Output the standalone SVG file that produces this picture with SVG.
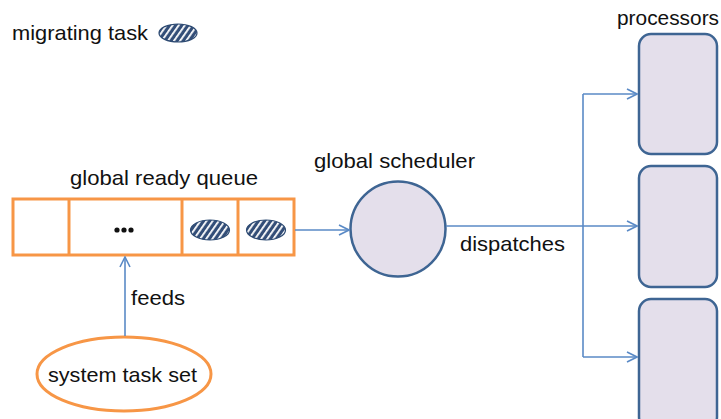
<svg xmlns="http://www.w3.org/2000/svg" width="721" height="419" viewBox="0 0 721 419">
<defs>
<style>
text{font-family:"Liberation Sans","Open Sans",sans-serif;font-size:21px;fill:#111}
.q{fill:#fff;stroke:#F79646;stroke-width:3}
.proc{fill:#E4DFEB;stroke:#3E6593;stroke-width:2.5}
.c{fill:none;stroke:#5A8AC6;stroke-width:1.6}
.task{fill:url(#hatch);stroke:#2E4B73;stroke-width:1.2}
</style>
<pattern id="hatch" patternUnits="userSpaceOnUse" width="5" height="5" patternTransform="rotate(35)">
<rect width="5" height="5" fill="#334E78"/>
<rect width="1.8" height="5" fill="#fff"/>
</pattern>
<marker id="arr" viewBox="0 0 12 12" refX="11" refY="6" markerWidth="12" markerHeight="12" markerUnits="userSpaceOnUse" orient="auto">
<path d="M1,1 L11,6 L1,11" fill="none" stroke="#5A8AC6" stroke-width="1.6"/>
</marker>
</defs>

<g id="legend">
<text x="12" y="40" textLength="136" lengthAdjust="spacingAndGlyphs">migrating task</text>
<ellipse class="task" cx="178" cy="33" rx="19" ry="9"/>
</g>

<g id="ready-queue">
<text x="70" y="185" textLength="188" lengthAdjust="spacingAndGlyphs">global ready queue</text>
<rect class="q" x="13" y="199" width="281" height="56"/>
<line class="q" x1="69" y1="199" x2="69" y2="255"/>
<line class="q" x1="182" y1="199" x2="182" y2="255"/>
<line class="q" x1="238" y1="199" x2="238" y2="255"/>
<circle cx="117" cy="230" r="2.6" fill="#111"/>
<circle cx="124" cy="230" r="2.6" fill="#111"/>
<circle cx="131" cy="230" r="2.6" fill="#111"/>
<ellipse class="task" cx="210" cy="230" rx="19.5" ry="10"/>
<ellipse class="task" cx="266" cy="230" rx="19.5" ry="10"/>
</g>

<g id="scheduler">
<text x="314" y="168" textLength="161" lengthAdjust="spacingAndGlyphs">global scheduler</text>
<circle class="proc" cx="398" cy="229" r="47.5"/>
</g>

<g id="processors">
<text x="617" y="25" textLength="102" lengthAdjust="spacingAndGlyphs">processors</text>
<rect id="p1" class="proc" x="639" y="34" width="78" height="120" rx="12"/>
<rect id="p2" class="proc" x="639" y="166" width="78" height="121" rx="12"/>
<rect id="p3" class="proc" x="639" y="299" width="78" height="130" rx="12"/>
</g>

<g id="task-set">
<ellipse cx="124" cy="374" rx="87" ry="37" fill="#fff" stroke="#F79646" stroke-width="3"/>
<text x="48" y="382" textLength="149" lengthAdjust="spacingAndGlyphs">system task set</text>
</g>

<g id="connectors">
<line class="c" x1="125" y1="336" x2="125" y2="257" marker-end="url(#arr)"/>
<text x="131" y="305" textLength="54" lengthAdjust="spacingAndGlyphs">feeds</text>
<line class="c" x1="295" y1="230" x2="349" y2="230" marker-end="url(#arr)"/>
<line class="c" x1="446" y1="226" x2="583" y2="226"/>
<text x="460" y="251" textLength="105" lengthAdjust="spacingAndGlyphs">dispatches</text>
<line class="c" x1="583" y1="94" x2="583" y2="357"/>
<polyline class="c" points="583,94 637,94" marker-end="url(#arr)"/>
<polyline class="c" points="583,226 637,226" marker-end="url(#arr)"/>
<polyline class="c" points="583,357 637,357" marker-end="url(#arr)"/>
</g>
</svg>
